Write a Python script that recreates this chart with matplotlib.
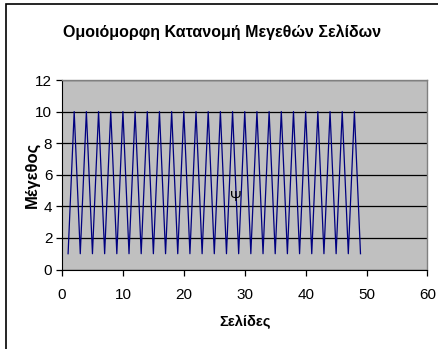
import matplotlib
matplotlib.use("Agg")
import matplotlib.pyplot as plt
from matplotlib.patches import Rectangle

pages = list(range(1, 50))
sizes = [1 if p % 2 == 1 else 10 for p in pages]
x_ticks = [0, 10, 20, 30, 40, 50, 60]
y_ticks = [0, 2, 4, 6, 8, 10, 12]
title = "Ομοιόμορφη Κατανομή Μεγεθών Σελίδων"
xlabel = "Σελίδες"
ylabel = "Μέγεθος"
annot = "Ψ"

plt.rcParams['font.family'] = ['Liberation Sans', 'DejaVu Sans']
W, H = 439, 349
fig = plt.figure(figsize=(W/100, H/100), dpi=100)
fig.patch.set_facecolor('white')

# outer chart frame (clipped at right/bottom)
fig.add_artist(Rectangle((6.5/W, -0.1), 2.0, (H-3.5)/H + 0.1, transform=fig.transFigure,
                         fill=False, edgecolor='black', linewidth=1.2))

ax = fig.add_axes([62/W, (H-269.5)/H, (427.5-62)/W, (269.5-80)/H])
ax.set_facecolor('#c0c0c0')
ax.plot(pages, sizes, color='#000080', linewidth=0.9)
ax.set_xlim(0, 60)
ax.set_ylim(0, 12)
ax.set_xticks(x_ticks)
ax.set_yticks(y_ticks)
ax.yaxis.grid(True, color='black', linewidth=0.9)
ax.set_axisbelow(True)
for s in ['top', 'right']:
    ax.spines[s].set_color('#808080')
    ax.spines[s].set_linewidth(1.0)
ax.spines['left'].set_color('black')
ax.spines['bottom'].set_color('black')
ax.tick_params(direction='out', length=4, width=0.9, labelsize=11)
ax.tick_params(axis='y', pad=3)
ax.tick_params(axis='x', pad=9)
ax.text(28.6, 4.6, annot, fontsize=10, ha='center', va='center')

fig.text(222/W, 1 - 32/H, title, ha='center', va='center', fontsize=11.5, fontweight='bold')
fig.text(245/W, 1 - 322/H, xlabel, ha='center', va='center', fontsize=10.5, fontweight='bold')
fig.text(32/W, 1 - 175/H, ylabel, ha='center', va='center', fontsize=12, fontweight='bold',
         rotation=90)

fig.savefig('out.png', dpi=100)
